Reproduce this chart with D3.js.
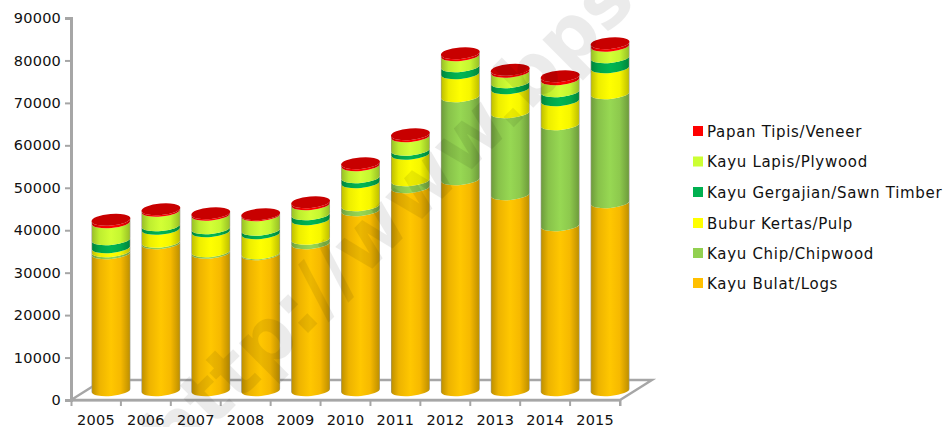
<!DOCTYPE html>
<html><head><meta charset="utf-8">
<script src="https://cdn.jsdelivr.net/npm/d3@7"></script>
<style>html,body{margin:0;padding:0;background:#fff}svg{display:block}
text{font-family:"DejaVu Sans",Verdana,sans-serif;fill:#111}</style></head>
<body><svg id="c" width="945" height="427"></svg>
<script>
const years=["2005","2006","2007","2008","2009","2010","2011","2012","2013","2014","2015"];
const seriesNames=["Kayu Bulat/Logs","Kayu Chip/Chipwood","Bubur Kertas/Pulp","Kayu Gergajian/Sawn Timber","Kayu Lapis/Plywood","Papan Tipis/Veneer"];
const logs=[32280,34630,32400,32040,34630,42410,47830,49710,46180,38870,44290];
const chip=[470,350,350,240,1060,1180,1650,19550,19320,23800,25680];
const pulp=[940,3060,4710,4710,4590,5420,6240,5420,5650,5650,6130];
const sawn=[1880,820,710,820,1180,1180,940,1650,1410,2120,2360];
const plywood=[4000,3420,3180,3420,2360,2830,3180,2590,2470,2830,2710];
const veneer=[590,350,350,240,470,470,470,470,470,710,590];
const colors=["#ffc000","#92d050","#ffff00","#00b050","#ccff33","#ff0000"];
const yTicks=[0,10000,20000,30000,40000,50000,60000,70000,80000,90000];
const watermark="http://www.bps.";

const svg=d3.select("#c");
const x=d3.scaleBand().domain(years).range([71,620]);
const y=d3.scaleLinear().domain([0,90000]).range([400,18]);
const rows=years.map((yr,i)=>({year:yr,s0:logs[i],s1:chip[i],s2:pulp[i],s3:sawn[i],s4:plywood[i],s5:veneer[i]}));
const stack=d3.stack().keys(["s0","s1","s2","s3","s4","s5"])(rows);

const defs=svg.append("defs");
colors.forEach((c,i)=>{
  const g=defs.append("linearGradient").attr("id","g"+i).attr("x1",0).attr("x2",1).attr("y1",0).attr("y2",0);
  const k=d3.color(c);
  [[0,"#9a9a8c"],[.03,k.darker(.75)],[.2,k.darker(.2)],[.5,k.brighter(.1)],[.75,k.darker(.1)],[.97,k.darker(.75)],[1,"#9a9a8c"]]
    .forEach(s=>g.append("stop").attr("offset",s[0]).attr("stop-color",s[1]));
});

// floor
const line=d3.line();
const grey="#a6a6a6";
const fl=[[x.range()[0],y(0)],[x.range()[1],y(0)],[x.range()[1]+32,y(0)-20],[x.range()[0]+32,y(0)-20]];
svg.append("path").attr("d",line(fl)+"Z").attr("fill","none").attr("stroke",grey).attr("stroke-width",2.4);

// axes
const fontStack='"DejaVu Sans",Verdana,sans-serif';
const ax=svg.append("g").attr("transform",`translate(${x.range()[0]},0)`)
  .call(d3.axisLeft(y).tickValues(yTicks).tickFormat(d3.format("d")).tickSize(6).tickPadding(4));
const bx=svg.append("g").attr("transform",`translate(0,${y(0)})`)
  .call(d3.axisBottom(x).tickSize(6).tickPadding(9).tickSizeOuter(6));
bx.selectAll(".tick line").attr("transform",`translate(${x.bandwidth()/2},0)`);
[ax,bx].forEach(a=>{a.selectAll("path,line").attr("stroke",grey).attr("stroke-width",2);
  a.selectAll("text").attr("font-size",14.5).attr("fill","#111").style("font-family",fontStack).style("letter-spacing","0.2px");});
ax.select("path").attr("stroke-width",3);

// cylinders
const rx=19.5, ry=5.8, tilt=5, depthX=15, depthY=4;
const th=tilt*Math.PI/180, dx=rx*Math.cos(th), dy=rx*Math.sin(th);
const cx=d=>x(d.data.year)+x.bandwidth()/2+depthX;
const fy=v=>y(v)-depthY-ry; // ellipse centre for stacked value
function side(c,y0,y1){ // y0 bottom centre, y1 top centre
  return `M${c-dx},${y1+dy}`+
   `A${rx},${ry},${-tilt},0,0,${c+dx},${y1-dy}`+
   `L${c+dx},${y0-dy}`+
   `A${rx},${ry},${-tilt},0,1,${c-dx},${y0+dy}Z`;
}
stack.forEach((s,i)=>{
  svg.append("g").selectAll("path").data(s).join("path")
    .attr("d",d=>side(cx(d),fy(d[0]),fy(d[1])))
    .attr("fill",`url(#g${i})`);
});
svg.append("g").selectAll("ellipse").data(stack[5]).join("ellipse")
  .attr("rx",rx).attr("ry",ry)
  .attr("transform",d=>`translate(${cx(d)},${fy(d[1])}) rotate(${-tilt})`)
  .attr("fill","#c80000");

// legend
const legendY=[283,253,223,192,161.5,131];
const lg=svg.append("g").selectAll("g").data(seriesNames).join("g")
  .attr("transform",(d,i)=>`translate(693,${legendY[i]})`);
lg.append("rect").attr("x",0).attr("y",-5).attr("width",10).attr("height",10).attr("fill",(d,i)=>colors[i]);
lg.append("text").attr("x",14).attr("y",5.5).attr("font-size",15).style("letter-spacing","0.7px").text(d=>d);

// watermark
svg.append("text").attr("transform","translate(174,467) rotate(-45)")
  .attr("font-size",76).attr("font-weight","bold").style("fill","#000").attr("opacity",.075).text(watermark);
</script></body></html>
